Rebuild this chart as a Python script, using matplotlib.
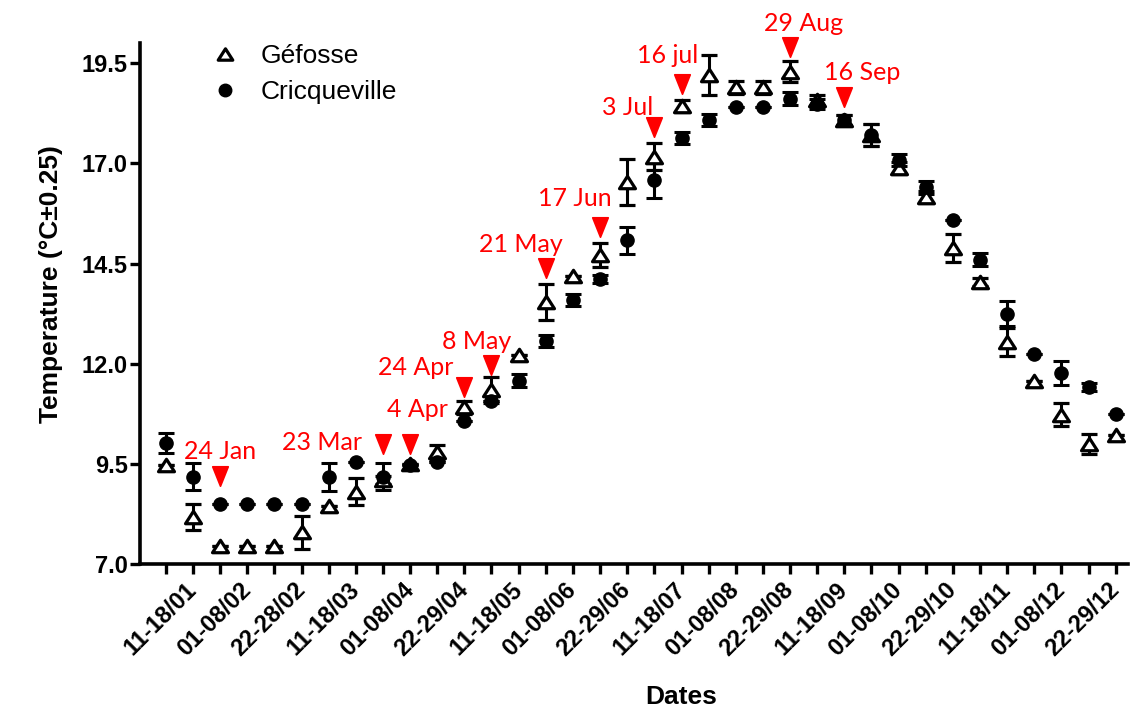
import matplotlib
matplotlib.use("Agg")
import matplotlib.pyplot as plt
from matplotlib.lines import Line2D
from matplotlib.path import Path
import numpy as np

# ---- data ----
tick_labels = ["11-18/01", "01-08/02", "22-28/02", "11-18/03", "01-08/04", "22-29/04",
               "11-18/05", "01-08/06", "22-29/06", "11-18/07", "01-08/08", "22-29/08",
               "11-18/09", "01-08/10", "22-29/10", "11-18/11", "01-08/12", "22-29/12"]
n_periods = 36

gefosse = [9.46, 8.17, 7.45, 7.45, 7.45, 7.79, 8.44, 8.81, 9.10, 9.50, 9.79, 10.91,
           11.35, 12.23, 13.54, 14.19, 14.71, 16.54, 17.17, 18.43, 19.21, 18.90,
           18.90, 19.29, 18.58, 18.08, 17.71, 16.88, 16.17, 14.88, 14.04, 12.54,
           11.58, 10.73, 10.00, 10.23]
gefosse_err = [0.0, 0.32, 0.0, 0.0, 0.0, 0.42, 0.0, 0.33, 0.10, 0.0, 0.19, 0.17,
               0.33, 0.0, 0.44, 0.0, 0.30, 0.58, 0.33, 0.15, 0.50, 0.17,
               0.17, 0.26, 0.12, 0.12, 0.27, 0.15, 0.15, 0.35, 0.10, 0.35,
               0.0, 0.29, 0.25, 0.0]

cricq = [10.02, 9.18, 8.50, 8.50, 8.50, 8.50, 9.17, 9.54, 9.18, 9.46, 9.54, 10.58,
         11.08, 11.58, 12.57, 13.58, 14.11, 15.08, 16.58, 17.63, 18.08, 18.40,
         18.40, 18.62, 18.48, 18.08, 17.71, 17.08, 16.40, 15.60, 14.60, 13.25,
         12.25, 11.77, 11.43, 10.75]
cricq_err = [0.25, 0.34, 0.0, 0.0, 0.0, 0.0, 0.34, 0.0, 0.34, 0.0, 0.0, 0.0,
             0.0, 0.17, 0.15, 0.15, 0.10, 0.33, 0.44, 0.15, 0.15, 0.0,
             0.0, 0.17, 0.12, 0.12, 0.27, 0.15, 0.15, 0.0, 0.17, 0.31,
             0.0, 0.30, 0.10, 0.0]

event_labels = ["24 Jan", "23 Mar", "4 Apr", "24 Apr", "8 May", "21 May", "17 Jun",
                "3 Jul", "16 jul", "29 Aug", "16 Sep"]
event_index = [2, 8, 9, 11, 12, 14, 16, 18, 19, 23, 25]
event_temp = [9.19, 10.0, 10.0, 11.42, 11.96, 14.39, 15.42, 17.92, 18.99, 19.90, 18.67]
# text offsets (points) relative to the arrow
event_offset = [(0, 18), (-44, 1), (5, 25), (-35, 14), (-11, 17), (-18, 17), (-18, 20),
                (-19, 14), (-10, 20), (10, 17), (13, 17)]

# ---- figure ----
plt.rcParams['font.family'] = ['Liberation Sans', 'DejaVu Sans']
fig = plt.figure(figsize=(11.37, 7.22), dpi=100)
ax = fig.add_axes([140/1137, 1-564/722, (1128-140)/1137, (564-43.3)/722])

x = np.arange(n_periods)
closed = [Path.MOVETO, Path.LINETO, Path.LINETO, Path.CLOSEPOLY]
tri_marker = Path([(0, 0.78), (-1, -0.78), (1, -0.78), (0, 0.78)], closed)
arrow_marker = Path([(-0.8, 1), (0.8, 1), (0, -1), (-0.8, 1)], closed)

ekw = dict(ecolor='black', elinewidth=2.2, capsize=5.6, capthick=2.2, ls='none', zorder=3)
ax.errorbar(x, gefosse, yerr=gefosse_err, marker=tri_marker, ms=11.5, mfc='white', mec='black',
            mew=2.3, color='black', **ekw)
ax.errorbar(x, cricq, yerr=cricq_err, marker='o', ms=9.5, mfc='black', mec='black',
            color='black', **ekw)

# red arrows
ax.plot(np.array(event_index), event_temp, ls='none', marker=arrow_marker, ms=14,
        color='red', mec='red', mew=1.2, zorder=4, clip_on=False)
for lab, idx, t, off in zip(event_labels, event_index, event_temp, event_offset):
    ax.annotate(lab, (idx, t), xytext=off, textcoords='offset points', color='red',
                ha='center', va='center', fontsize=18, family=['Lato', 'DejaVu Sans'],
                annotation_clip=False)

ax.set_xlim(-0.95, 35.45)
ax.set_ylim(7.0, 20.0)
ax.set_yticks([7.0, 9.5, 12.0, 14.5, 17.0, 19.5])
ax.set_yticklabels(["7.0", "9.5", "12.0", "14.5", "17.0", "19.5"])
ax.set_xticks(x)
labels = [""] * n_periods
for k, lab in enumerate(tick_labels):
    labels[2 * k + 1] = lab
ax.set_xticklabels(labels, rotation=45, ha='right', va='center', rotation_mode='anchor')

for s in ['top', 'right']:
    ax.spines[s].set_visible(False)
for s in ['left', 'bottom']:
    ax.spines[s].set_linewidth(2.6)
ax.tick_params(axis='both', width=2.4, length=7, direction='out')
ax.tick_params(axis='y', labelsize=17, pad=2)
ax.tick_params(axis='x', labelsize=17, pad=9)
for t in ax.get_xticklabels() + ax.get_yticklabels():
    t.set_fontweight('bold')

ax.set_xlabel("Dates", fontsize=19, fontweight='bold')
ax.xaxis.set_label_coords(0.548, -0.233)
ax.set_ylabel("Temperature (°C±0.25)", fontsize=19, fontweight='bold')
ax.yaxis.set_label_coords(-0.078, 0.537)

handles = [Line2D([], [], ls='none', marker=tri_marker, ms=10.5, mfc='white', mec='black', mew=2.3),
           Line2D([], [], ls='none', marker='o', ms=9, mfc='black', mec='black')]
fig.legend(handles, ["Géfosse", "Cricqueville"], loc='upper left',
           bbox_to_anchor=(212/1137, 1-44/722), frameon=False, fontsize=19,
           handlelength=1.0, handletextpad=0.85, borderpad=0, borderaxespad=0,
           labelspacing=0.45)

fig.savefig("out.png", dpi=100)
